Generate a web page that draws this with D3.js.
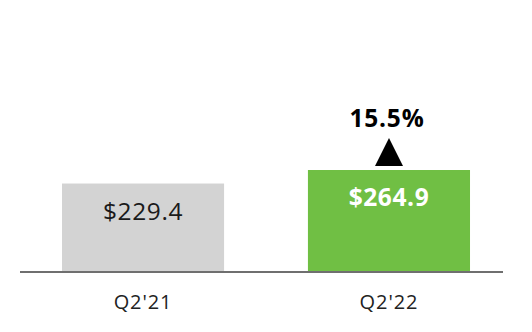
<!DOCTYPE html>
<html><head><meta charset="utf-8">
<script src="https://cdn.jsdelivr.net/npm/d3@7"></script>
<style>html,body{margin:0;padding:0;background:#fff;}svg{display:block;}</style>
</head><body>
<svg id="c" width="532" height="332"></svg>
<script>
const categories = ["Q2'21", "Q2'22"];
const values = [229.4, 264.9];
const valueLabels = ["$229.4", "$264.9"];
const growthLabel = "15.5%";
const barColors = ["#d3d3d3", "#70bf44"];
const labelColors = ["#1a1a1a", "#ffffff"];
const labelWeights = ["normal", "bold"];

const svg = d3.select("#c");
const baseY = 271;
const x = d3.scaleBand().domain(categories).range([20, 512]).paddingInner(0.341).paddingOuter(0.1707);
const y = d3.scaleLinear().domain([0, 264.9]).range([baseY, 170]);
const font = "'Open Sans', sans-serif";

svg.selectAll("rect.bar").data(values).join("rect")
  .attr("class", "bar")
  .attr("x", (d, i) => x(categories[i]))
  .attr("width", x.bandwidth())
  .attr("y", d => y(d))
  .attr("height", d => y(0) - y(d))
  .attr("fill", (d, i) => barColors[i]);

// axis line
svg.append("line").attr("x1", 20).attr("x2", 503).attr("y1", y(0) + 1).attr("y2", y(0) + 1)
  .attr("stroke", "#6f6f6f").attr("stroke-width", 2);

// category labels
const xAxis = d3.axisBottom(x).tickSize(0).tickPadding(0);
const gx = svg.append("g").attr("transform", `translate(0,${y(0) + 24})`).call(xAxis);
gx.select(".domain").remove();
gx.selectAll("text").attr("font-family", font).attr("font-size", 20).attr("fill", "#222")
  .attr("letter-spacing", "0.9px")
  .attr("dy", "0.71em").attr("y", 0);

// value labels
svg.selectAll("text.val").data(values).join("text")
  .attr("class", "val")
  .attr("x", (d, i) => x(categories[i]) + x.bandwidth() / 2)
  .attr("y", (d, i) => i === 0 ? y(d) + 36.5 : y(d) + 36)
  .attr("text-anchor", "middle")
  .attr("font-family", font)
  .attr("font-size", 24.5)
  .attr("letter-spacing", "0.6px")
  .attr("font-weight", (d, i) => labelWeights[i])
  .attr("fill", (d, i) => labelColors[i])
  .text((d, i) => valueLabels[i]);

// growth triangle and label
const cx = x(categories[1]) + x.bandwidth() / 2;
const triB = y(values[1]) - 4;
svg.append("path")
  .attr("d", `M${cx - 14},${triB} L${cx + 14},${triB} L${cx},${triB - 28} Z`)
  .attr("fill", "#000");
svg.append("text").attr("x", cx - 2).attr("y", 127)
  .attr("text-anchor", "middle").attr("font-family", font)
  .attr("font-size", 24.5).attr("letter-spacing", "0.8px")
  .attr("font-weight", "bold").attr("fill", "#000")
  .text(growthLabel);
</script>
</body></html>
